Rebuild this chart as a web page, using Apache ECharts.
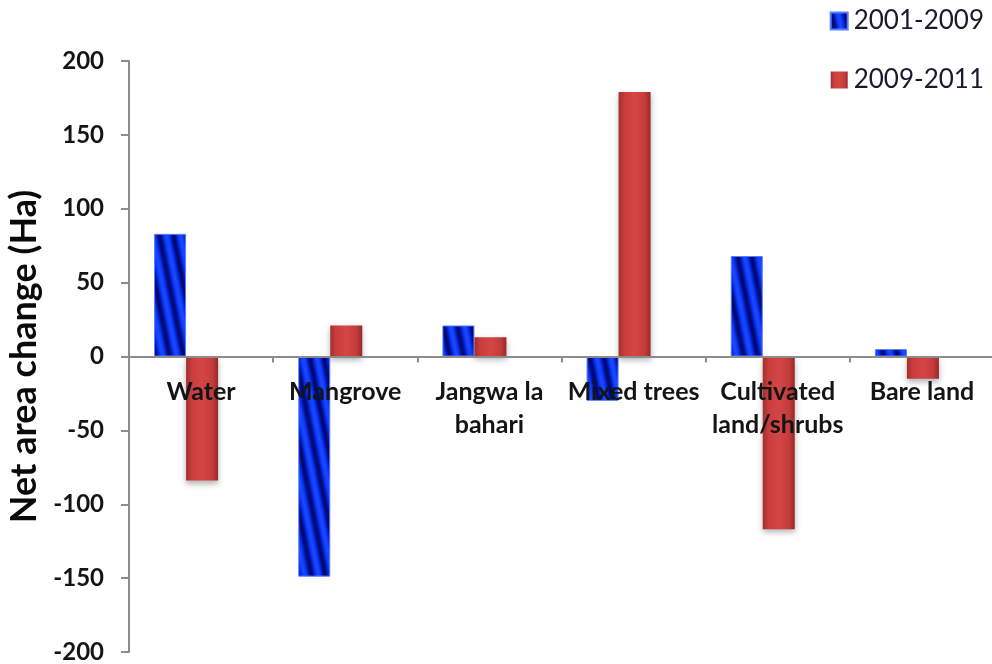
<!DOCTYPE html>
<html>
<head>
<meta charset="utf-8">
<script src="https://cdn.jsdelivr.net/npm/echarts@6/dist/echarts.min.js"></script>
<style>
  html, body { margin: 0; padding: 0; background: #fff; }
  #chart { width: 992px; height: 664px; }
</style>
</head>
<body>
<div id="chart"></div>
<script>
// Land cover classes and net area change per period (Ha)
const categories = ['Water', 'Mangrove', 'Jangwa la\nbahari', 'Mixed trees', 'Cultivated\nland/shrubs', 'Bare land'];
const seriesNames = ['2001-2009', '2009-2011'];
const change2001to2009 = [83, -149, 21, -30, 68, 5];
const change2009to2011 = [-84, 21, 13, 179, -117, -15];
const yTicks = { min: -200, max: 200, step: 50 };

// Diagonal striped blue texture for the first period
function stripeCanvas() {
  const W = 14, H = 70;
  const c = document.createElement('canvas');
  c.width = W; c.height = H;
  const ctx = c.getContext('2d');
  const img = ctx.createImageData(W, H);
  const dark = [0, 8, 110], bright = [25, 70, 255], mid = [0, 40, 230];
  for (let y = 0; y < H; y++) {
    for (let x = 0; x < W; x++) {
      let t = ((x - y * W / H) / W) % 1;
      if (t < 0) t += 1;
      const v = 0.5 - 0.5 * Math.cos(2 * Math.PI * t); // 0 dark .. 1 bright
      let col;
      if (v < 0.5) {
        const k = v / 0.5;
        col = dark.map((d, i) => d + (mid[i] - d) * k);
      } else {
        const k = (v - 0.5) / 0.5;
        col = mid.map((m, i) => m + (bright[i] - m) * k);
      }
      const p = (y * W + x) * 4;
      img.data[p] = col[0]; img.data[p + 1] = col[1]; img.data[p + 2] = col[2]; img.data[p + 3] = 255;
    }
  }
  ctx.putImageData(img, 0, 0);
  return c;
}

const blueFill = { image: stripeCanvas(), repeat: 'repeat' };
const redFill = new echarts.graphic.LinearGradient(0, 0, 1, 0, [
  { offset: 0, color: '#a22e2e' },
  { offset: 0.18, color: '#c83d3d' },
  { offset: 0.5, color: '#d44646' },
  { offset: 0.82, color: '#c43b3b' },
  { offset: 1, color: '#982828' }
]);

const axisGray = '#8c8c8c';
const FONT = 'Lato, "Open Sans", sans-serif';
const GRID_TOP = 61, GRID_BOTTOM = 12, CHART_H = 664;
// distance from the grid bottom up to the zero line
const zeroLift = (CHART_H - GRID_TOP - GRID_BOTTOM) * (0 - yTicks.min) / (yTicks.max - yTicks.min);

const chart = echarts.init(document.getElementById('chart'), null, { renderer: 'canvas' });

chart.setOption({
  animation: false,
  backgroundColor: '#ffffff',
  legend: {
    orient: 'vertical',
    right: 3,
    top: 3,
    itemWidth: 17,
    itemHeight: 17,
    itemGap: 33,
    icon: 'rect',
    textStyle: { fontFamily: FONT, fontSize: 26, color: '#1a1a2e', padding: [0, 0, 0, 1] },
    data: seriesNames
  },
  grid: [
    { left: 114, top: GRID_TOP, width: 865, bottom: GRID_BOTTOM, containLabel: false, outerBoundsMode: 'none' },
    { left: 129, top: GRID_TOP, width: 865, bottom: GRID_BOTTOM, containLabel: false, outerBoundsMode: 'none' }
  ],
  xAxis: [
    { type: 'category', gridIndex: 0, data: categories, show: false },
    {
      type: 'category', gridIndex: 1, data: categories, z: 10,
      axisLine: { onZero: true, lineStyle: { color: axisGray, width: 2 } },
      axisTick: { show: true, length: 6, lineStyle: { color: axisGray, width: 2 } },
      axisLabel: { show: false }
    },
    {
      // category names, hung just below the zero line
      type: 'category', gridIndex: 1, data: categories, z: 10,
      position: 'bottom', offset: -zeroLift,
      axisLine: { show: false, onZero: false },
      axisTick: { show: false },
      axisLabel: {
        margin: 19, interval: 0,
        fontFamily: FONT, fontWeight: 'bold', fontSize: 25, lineHeight: 33, color: '#141414'
      }
    }
  ],
  yAxis: [
    { type: 'value', gridIndex: 0, min: yTicks.min, max: yTicks.max, interval: yTicks.step, show: false },
    {
      type: 'value', gridIndex: 1, min: yTicks.min, max: yTicks.max, interval: yTicks.step,
      name: 'Net area change (Ha)',
      nameLocation: 'middle',
      nameRotate: 90,
      nameGap: 87,
      nameMoveOverlap: false,
      nameTextStyle: { fontFamily: FONT, fontWeight: 'bold', fontSize: 36, color: '#0a0a0a' },
      axisLine: { show: true, lineStyle: { color: axisGray, width: 2 } },
      axisTick: { show: true, length: 8, lineStyle: { color: axisGray, width: 2 } },
      splitLine: { show: false },
      axisLabel: { margin: 25, fontFamily: FONT, fontWeight: 'bold', fontSize: 24, color: '#141414' }
    }
  ],
  series: [
    {
      name: seriesNames[0], type: 'bar', xAxisIndex: 0, yAxisIndex: 0,
      data: change2001to2009, barWidth: 32, barGap: '0%',
      itemStyle: { color: blueFill, borderColor: '#5a7cff', borderWidth: 1 }
    },
    {
      name: seriesNames[1], type: 'bar', xAxisIndex: 0, yAxisIndex: 0,
      data: change2009to2011, barWidth: 32, barGap: '0%',
      itemStyle: {
        color: redFill,
        shadowColor: 'rgba(0,0,0,0.3)', shadowBlur: 6, shadowOffsetY: 3
      }
    }
  ]
});
</script>
</body>
</html>
